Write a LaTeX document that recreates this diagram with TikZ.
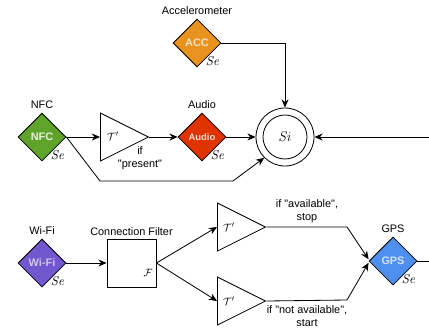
\documentclass[tikz,border=0pt]{standalone}
\usepackage[no-math]{fontspec}
\setmainfont{Liberation Sans}
\usepackage{amsmath}
\usetikzlibrary{arrows.meta,shapes.geometric}

\definecolor{accorange}{HTML}{E8921F}
\definecolor{nfcgreen}{HTML}{5FA32A}
\definecolor{audiored}{HTML}{DF3300}
\definecolor{wifipurple}{HTML}{7357CF}
\definecolor{gpsblue}{HTML}{4F90EE}

\begin{document}
\begin{tikzpicture}[x=0.03cm,y=-0.03cm,font=\fontsize{9.3}{11}\selectfont]

	\tikzstyle sensor=[diamond, draw, line width=0.7pt, minimum width=1.44cm, minimum height=1.44cm, inner sep=0pt, font=\bfseries\fontsize{9.3}{10}\selectfont, label distance=2pt];
	\tikzstyle se tag=[inner sep=0pt, xshift=-3pt, yshift=-1pt, font=\fontsize{11}{11}\selectfont];
	\tikzstyle gate=[isosceles triangle, draw, line width=0.7pt, isosceles triangle stretches, minimum width=1.44cm, minimum height=1.44cm, inner sep=0pt, anchor=west];
	\tikzstyle flow lines=[line width=0.7pt];
	\tikzstyle flow arrows=[line width=0.7pt, -{Stealth[length=7pt,width=6pt]}];

	\useasboundingbox (0,0) rectangle (429,332);

	% sensors
	\node (acc) [sensor, fill=accorange, text=white!75!accorange, label=above:Accelerometer, label={[se tag]south east:$\mathit{Se}$}] at (197,43) {ACC};
	\node (nfc) [sensor, fill=nfcgreen, text=white!85!nfcgreen, label=above:NFC, label={[se tag]south east:$\mathit{Se}$}] at (42,137) {NFC};
	\node (audio) [sensor, fill=audiored, text=white!85!audiored, font=\bfseries\fontsize{8}{9}\selectfont, label=above:Audio, label={[se tag]south east:$\mathit{Se}$}] at (202,137) {Audio};
	\node (wifi) [sensor, fill=wifipurple, text=white!65!wifipurple, label=above:Wi-Fi, label={[se tag]south east:$\mathit{Se}$}] at (42,263) {Wi-Fi};
	\node (gps) [sensor, fill=gpsblue, text=white!75!gpsblue, label=above:GPS, label={[se tag]south east:$\mathit{Se}$}] at (393,261) {GPS};

	% sink
	\node (sink) [circle, draw, line width=0.7pt, minimum size=1.74cm, inner sep=0pt, font=\fontsize{13}{13}\selectfont] at (285,137) {$\mathit{Si}$};
	\draw[flow lines] (sink.center) circle (0.66cm);

	% triggers and filter
	\node (trig1) [gate] at (100,137) {};
	\node (trig1sym) at (113,136) {$\mathcal{T}'$};
	\node (trig1txt) [align=center] at (140,158) {if\\\textquotedbl present\textquotedbl};

	\node (filter) [draw, line width=0.7pt, minimum width=1.47cm, minimum height=1.44cm] at (131.5,263) {};
	\node (filtertxt) [above, inner sep=2pt] at (filter.north) {Connection Filter};
	\node (filtersym) at (148,273) {$\mathcal{F}$};

	\node (trig2) [gate] at (217,227) {};
	\node (trig2sym) at (229,227) {$\mathcal{T}'$};
	\node (trig2txt) [align=center] at (307,211) {if \textquotedbl available\textquotedbl,\\stop};

	\node (trig3) [gate] at (217,301) {};
	\node (trig3sym) at (229,301) {$\mathcal{T}'$};
	\node (trig3txt) [align=center] at (307,316) {if \textquotedbl not available\textquotedbl,\\start};

	\coordinate (inright) at (429,137);
	\coordinate (outright) at (429,261);

	% connectors
	\draw[flow arrows] (acc.east) -| (sink.north);
	\draw[flow arrows] (nfc.east) -- (trig1.west);
	\draw[flow arrows] (trig1.east) -- (audio.west);
	\draw[flow arrows] (audio.east) -- (sink.west);
	\draw[flow arrows] (nfc.east) -- (100,181) -- (233,181) -- (sink.south west);
	\draw[flow arrows] (inright) -- (sink.east);

	\draw[flow arrows] (wifi.east) -- (filter.west);
	\draw[flow arrows] (filter.east) -- (trig2.west);
	\draw[flow arrows] (filter.east) -- (trig3.west);
	\draw[flow arrows] (trig2.east) -- (347,227) -- ([yshift=1.5]gps.west);
	\draw[flow arrows] (trig3.east) -- (347,300) -- ([yshift=-1.5]gps.west);
	\draw[flow lines] (gps.east) -- (outright);

\end{tikzpicture}
\end{document}
